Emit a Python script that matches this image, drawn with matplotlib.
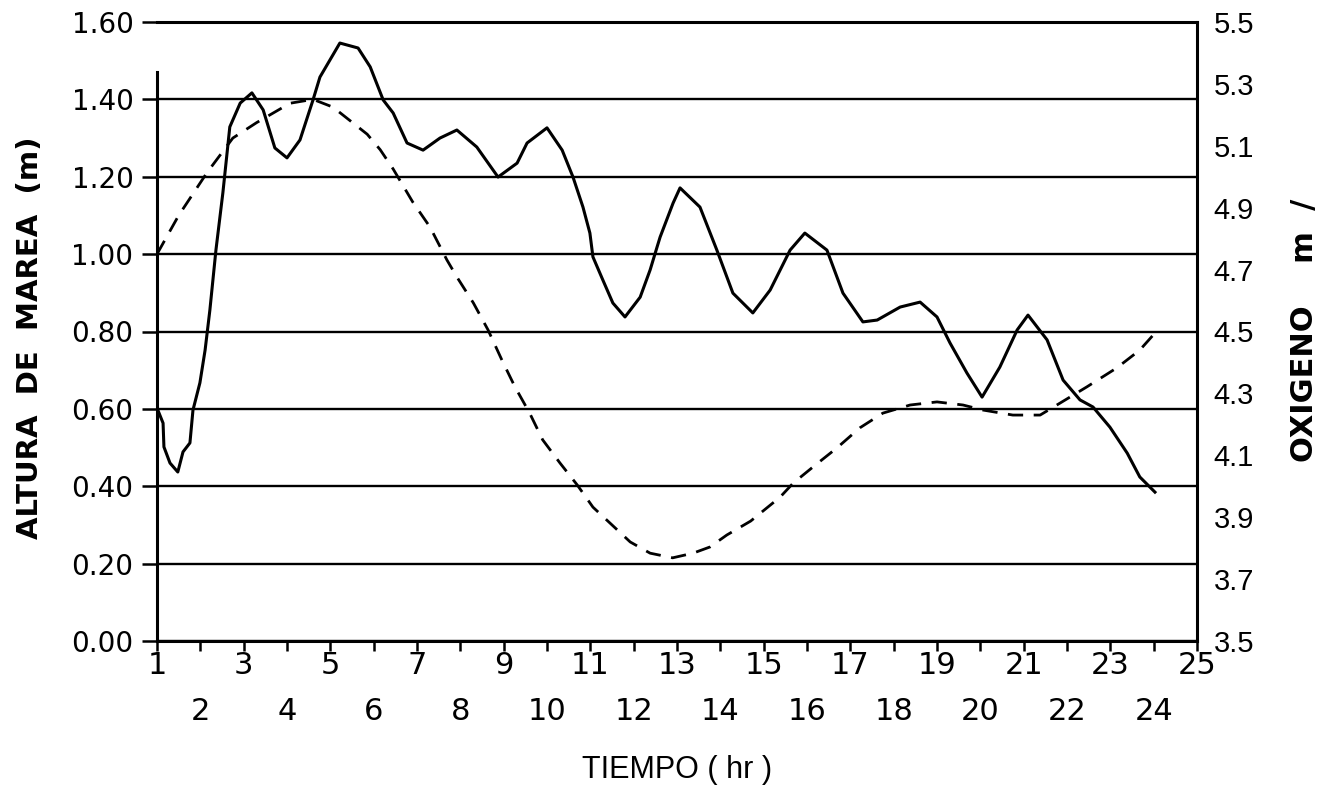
import numpy as np
import matplotlib
matplotlib.use("Agg")
import matplotlib.pyplot as plt
from matplotlib.ticker import FormatStrFormatter

# altura de marea (m), curva discontinua, eje izquierdo
hora_marea = [1.0, 1.5, 2.15, 2.75, 3.3, 4.07, 4.6, 5.06, 5.85, 6.15, 6.45,
              6.9, 7.3, 7.69, 7.92, 8.3, 8.64, 8.96, 9.26, 9.6, 9.9, 10.3,
              10.7, 11.06, 11.5, 11.92, 12.38, 12.9, 13.37, 13.76, 14.15,
              14.7, 15.38, 15.68, 16.14, 16.7, 17.22, 17.75, 18.38, 19.0,
              19.6, 20.06, 20.75, 21.38, 21.84, 22.46, 23.15, 23.68, 24.03]
marea = [1.00, 1.10, 1.21, 1.30, 1.34, 1.39, 1.40, 1.38, 1.31, 1.27, 1.22,
         1.135, 1.07, 0.985, 0.941, 0.874, 0.804, 0.726, 0.657, 0.589, 0.52,
         0.46, 0.403, 0.346, 0.30, 0.256, 0.227, 0.215, 0.227, 0.243, 0.274,
         0.31, 0.372, 0.408, 0.45, 0.50, 0.551, 0.589, 0.61, 0.618,
         0.61, 0.597, 0.584, 0.584, 0.615, 0.657, 0.706, 0.752, 0.796]

# oxigeno, curva continua, eje derecho
hora_oxi = [1.0, 1.14, 1.16, 1.3, 1.48, 1.6, 1.76, 1.83, 1.99, 2.11, 2.22,
            2.36, 2.52, 2.68, 2.92, 3.19, 3.45, 3.72, 4.0, 4.3, 4.6, 4.76,
            5.22, 5.64, 5.92, 6.22, 6.45, 6.77, 7.14, 7.53, 7.92, 8.38,
            8.87, 9.31, 9.54, 10.0, 10.35, 10.6, 10.83, 10.99, 11.06, 11.29,
            11.52, 11.8, 12.15, 12.38, 12.54, 12.61, 12.91, 13.07, 13.53,
            13.92, 14.29, 14.75, 15.15, 15.61, 15.95, 16.46, 16.83, 17.29,
            17.62, 18.15, 18.61, 19.0, 19.3, 19.69, 20.04, 20.45, 20.85,
            21.1, 21.54, 21.91, 22.3, 22.6, 22.99, 23.39, 23.68, 24.03]
oxigeno = [4.253, 4.204, 4.127, 4.075, 4.046, 4.111, 4.140, 4.246, 4.334,
           4.440, 4.569, 4.763, 4.948, 5.161, 5.238, 5.271, 5.216, 5.093,
           5.061, 5.119, 5.248, 5.322, 5.432, 5.416, 5.355, 5.248, 5.206,
           5.109, 5.086, 5.125, 5.151, 5.096, 4.999, 5.044, 5.109, 5.158,
           5.086, 4.999, 4.902, 4.818, 4.741, 4.666, 4.592, 4.547, 4.611,
           4.699, 4.773, 4.805, 4.915, 4.964, 4.902, 4.763, 4.624, 4.560,
           4.634, 4.763, 4.818, 4.763, 4.624, 4.531, 4.537, 4.579, 4.595,
           4.547, 4.463, 4.366, 4.288, 4.385, 4.505, 4.553, 4.473, 4.343,
           4.279, 4.256, 4.191, 4.107, 4.030, 3.981]

horas_impares = list(range(1, 26, 2))
horas_pares = list(range(2, 25, 2))
ticks_izq = [0.0, 0.2, 0.4, 0.6, 0.8, 1.0, 1.2, 1.4, 1.6]
ticks_der = [3.5, 3.7, 3.9, 4.1, 4.3, 4.5, 4.7, 4.9, 5.1, 5.3, 5.5]

fig = plt.figure(figsize=(13.3, 7.98), dpi=100)
ax = fig.add_axes([157 / 1330, 1 - 641 / 798, 1040 / 1330, 619 / 798])

ax.plot(hora_marea, marea, color="black", lw=2.0, dashes=(5.5, 3.8))
ax.set_xlim(1, 25)
ax.set_ylim(0, 1.6)
ax.set_yticks(ticks_izq)
ax.yaxis.set_major_formatter(FormatStrFormatter("%.2f"))
ax.grid(axis="y", color="black", lw=1.7)
ax.set_axisbelow(True)

ax.set_xticks(horas_impares)
ax.set_xticks(horas_pares, minor=True)
ax.set_xticklabels([str(h) for h in horas_impares])
ax.set_xticklabels([str(h) for h in horas_pares], minor=True)
ax.tick_params(axis="x", which="both", direction="out", length=7, width=1.8,
               labelsize=22)
ax.tick_params(axis="x", which="major", pad=0)
ax.tick_params(axis="x", which="minor", pad=33)
ax.tick_params(axis="y", direction="out", length=11, width=1.8, pad=6,
               labelsize=20)

for lbl in ax.get_xticklabels(which="both"):
    lbl.set_family(["Liberation Sans Narrow", "DejaVu Sans"])

for s in ["left", "bottom", "top"]:
    ax.spines[s].set_linewidth(2.2)
ax.spines["left"].set_bounds(0, 1.47)
ax.spines["right"].set_visible(False)

ax2 = ax.twinx()
ax2.plot(hora_oxi, oxigeno, color="black", lw=2.2)
ax2.set_ylim(3.5, 5.5)
ax2.set_yticks(ticks_der)
ax2.yaxis.set_major_formatter(FormatStrFormatter("%.1f"))
ax2.tick_params(axis="y", length=0, pad=12, labelsize=21)
for lbl in ax2.get_yticklabels():
    lbl.set_family("Liberation Sans")
for s in ["left", "bottom", "top"]:
    ax2.spines[s].set_visible(False)
ax2.spines["right"].set_linewidth(2.2)

fig.text(30 / 1330, 1 - 338 / 798, "ALTURA  DE  MAREA  (m)", rotation=90,
         ha="center", va="center", fontsize=21, fontweight="bold")
fig.text(1305 / 1330, 1 - 330 / 798, "OXIGENO    m  /", rotation=90,
         ha="center", va="center", fontsize=22, fontweight="bold")
fig.text(677 / 1330, 1 - 770 / 798, "TIEMPO ( hr )", ha="center",
         va="center", fontsize=22, family="Liberation Sans")

fig.savefig("out.png", dpi=100)
